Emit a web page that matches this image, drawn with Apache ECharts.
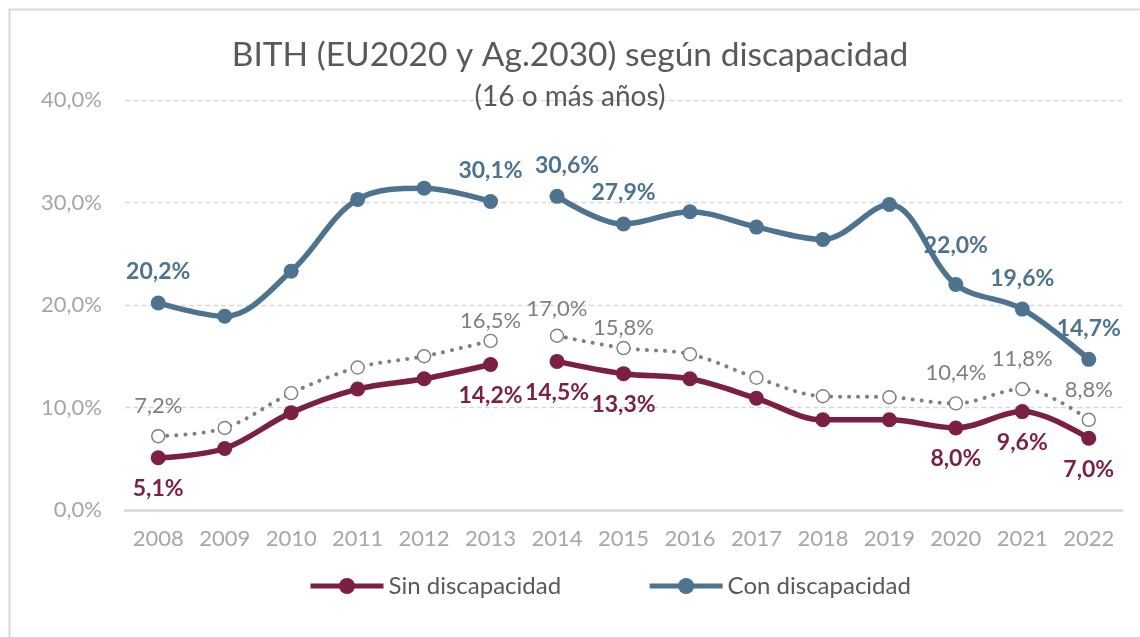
<!DOCTYPE html>
<html>
<head>
<meta charset="utf-8">
<script src="https://cdn.jsdelivr.net/npm/echarts@6/dist/echarts.min.js"></script>
<style>
html,body{margin:0;padding:0;background:#fff;}
#chart{width:1140px;height:637px;}
</style>
</head>
<body>
<div id="chart"></div>
<script>
const years = ['2008','2009','2010','2011','2012','2013','2014','2015','2016','2017','2018','2019','2020','2021','2022'];
const sinDiscapacidad = [5.1, 6.0, 9.5, 11.8, 12.8, 14.2, 14.5, 13.3, 12.8, 10.9, 8.8, 8.8, 8.0, 9.6, 7.0];
const conDiscapacidad = [20.2, 18.9, 23.3, 30.3, 31.4, 30.1, 30.6, 27.9, 29.1, 27.6, 26.4, 29.8, 22.0, 19.6, 14.7];
const total = [7.2, 8.0, 11.4, 13.9, 15.0, 16.5, 17.0, 15.8, 15.2, 12.9, 11.1, 11.0, 10.4, 11.8, 8.8];
const labeledYears = ['2008','2013','2014','2015','2020','2021','2022'];
const breakAfter = '2013';
const yTicks = [0, 10, 20, 30, 40];

const FONT = 'Lato';
const C_SIN = '#7B1F45';
const C_CON = '#4D738F';
const C_TOT = '#7F7F7F';

function fmt(v){ return v.toFixed(1).replace('.', ',') + '%'; }

const breakIdx = years.indexOf(breakAfter);
function part(arr, first){
  return arr.map((v,i)=> (first ? (i<=breakIdx ? v : '-') : (i>breakIdx ? v : '-')));
}

// per-point label tweaks (style only)
const labelTweaks = {
  con: {'2014':[10,0], '2020':[0,-8]},
  tot: {'2013':[0,10], '2015':[0,10], '2014':[0,3]},
  sin: {}
};

function withLabels(arr, key){
  return arr.map((v,i)=>{
    if (v === '-') return v;
    const show = labeledYears.indexOf(years[i]) >= 0;
    const item = {value: v, label: {show: show}};
    const t = labelTweaks[key][years[i]];
    if (show && t) item.label.offset = t;
    return item;
  });
}

function lineSeries(name, arr, key, first, color, labelPos, dist){
  return {
    name: name,
    type: 'line',
    data: withLabels(part(arr, first), key),
    smooth: 0.35,
    symbol: 'circle',
    symbolSize: 15,
    showSymbol: true,
    itemStyle: {color: color},
    lineStyle: {color: color, width: 5.5},
    label: {
      position: labelPos, distance: dist,
      formatter: p => fmt(p.value),
      color: color, fontFamily: FONT, fontWeight: 'bold', fontSize: 23
    },
    emphasis: {disabled: true},
    z: 3
  };
}

function totSeries(first){
  return {
    name: 'Total',
    type: 'line',
    data: withLabels(part(total, first), 'tot'),
    smooth: 0.35,
    symbol: 'circle',
    symbolSize: 13,
    itemStyle: {color: '#fff', borderColor: C_TOT, borderWidth: 1.4},
    lineStyle: {color: C_TOT, width: 4, type: [0.1, 9], cap: 'round'},
    label: {
      position: 'top', distance: 12,
      formatter: p => fmt(p.value),
      color: C_TOT, fontFamily: FONT, fontSize: 22
    },
    emphasis: {disabled: true},
    z: 2
  };
}

const chart = echarts.init(document.getElementById('chart'));
chart.setOption({
  animation: false,
  backgroundColor: '#fff',
  graphic: [{
    type: 'rect', left: 7, top: 7,
    shape: {width: 1160, height: 660},
    style: {fill: 'none', stroke: '#D9D9D9', lineWidth: 2},
    silent: true
  }],
  title: {
    text: 'BITH (EU2020 y Ag.2030) según discapacidad',
    subtext: '(16 o más años)',
    left: 'center', top: 33, itemGap: 11,
    textStyle: {fontFamily: FONT, fontSize: 33.5, fontWeight: 'normal', color: '#595959'},
    subtextStyle: {fontFamily: FONT, fontSize: 28, color: '#595959'}
  },
  grid: {left: 125, right: 18, top: 100, bottom: 127, containLabel: false},
  legend: {
    data: ['Sin discapacidad', 'Con discapacidad'],
    left: 303, top: 569,
    itemWidth: 73, itemHeight: 20, itemGap: 86,
    lineStyle: {width: 5},
    textStyle: {fontFamily: FONT, fontSize: 24, color: '#595959'}
  },
  xAxis: {
    type: 'category', data: years, boundaryGap: true,
    axisLine: {lineStyle: {color: '#D9D9D9', width: 2.5}},
    axisTick: {show: false},
    axisLabel: {fontFamily: FONT, fontSize: 22, color: '#A6A6A6', margin: 18}
  },
  yAxis: {
    type: 'value', min: yTicks[0], max: yTicks[yTicks.length-1], interval: 10,
    axisLine: {show: false}, axisTick: {show: false},
    axisLabel: {fontFamily: FONT, fontSize: 22, color: '#A6A6A6', margin: 23, formatter: v => fmt(v)},
    splitLine: {lineStyle: {color: '#D9D9D9', width: 1.3, type: [5, 3]}}
  },
  series: [
    totSeries(true), totSeries(false),
    lineSeries('Sin discapacidad', sinDiscapacidad, 'sin', true, C_SIN, 'bottom', 12),
    lineSeries('Sin discapacidad', sinDiscapacidad, 'sin', false, C_SIN, 'bottom', 12),
    lineSeries('Con discapacidad', conDiscapacidad, 'con', true, C_CON, 'top', 12),
    lineSeries('Con discapacidad', conDiscapacidad, 'con', false, C_CON, 'top', 12)
  ]
});
</script>
</body>
</html>
